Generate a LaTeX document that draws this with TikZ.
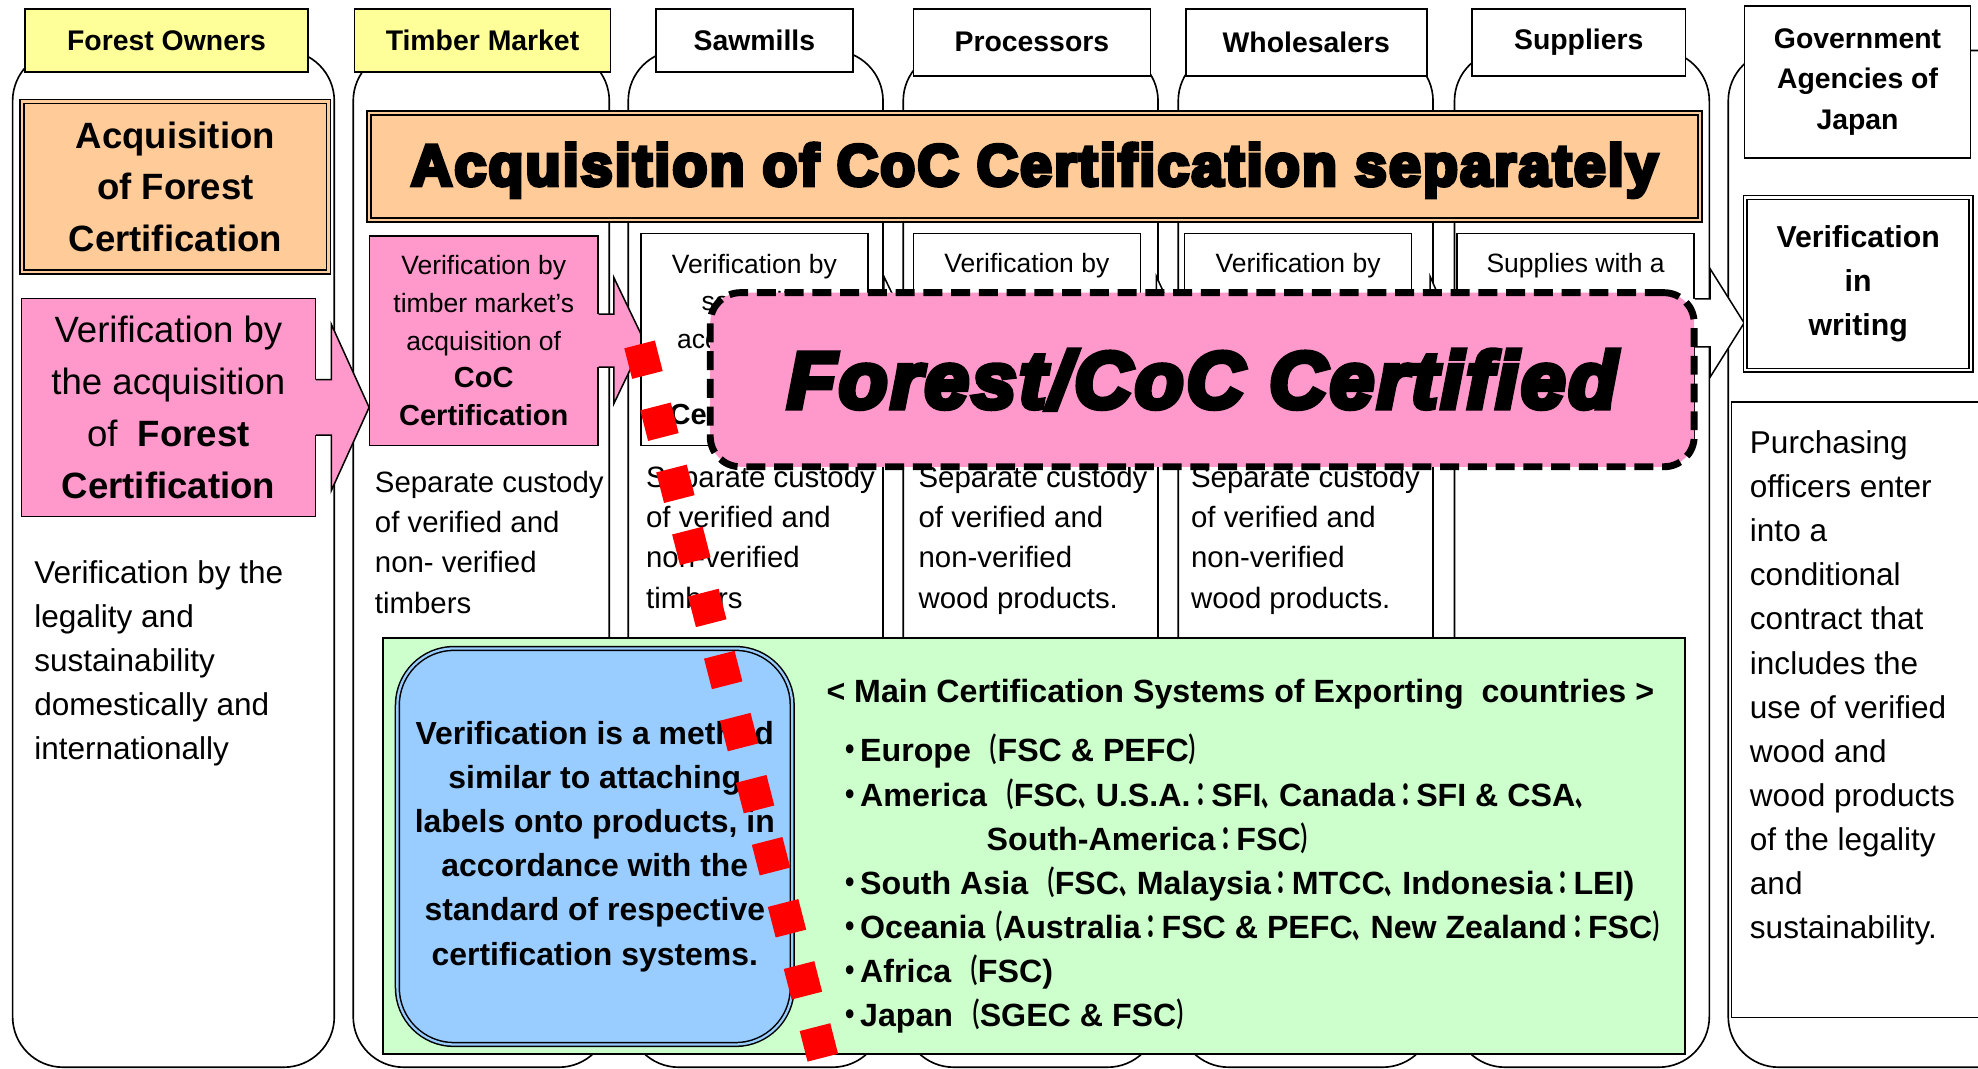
\documentclass[tikz,border=0pt]{standalone}
\usepackage{fontspec}
\usepackage{graphicx}
\setmainfont{Liberation Sans}
\newfontfamily\heavyfont{Liberation Sans Bold}[FakeBold=7,LetterSpace=4]
\newfontfamily\heavyit{Liberation Sans Bold Italic}[FakeBold=7,LetterSpace=4]
\newfontfamily\jpfont{Noto Sans CJK JP}
\usetikzlibrary{positioning}
\usetikzlibrary{calc}

\definecolor{ownyellow}{HTML}{FFFF99}
\definecolor{certorange}{HTML}{FFCC99}
\definecolor{verpink}{HTML}{FF99CC}
\definecolor{sysgreen}{HTML}{CCFFCC}
\definecolor{noteblue}{HTML}{99CCFF}
\definecolor{markred}{HTML}{FF0000}

% japanese punctuation, set narrow
\newcommand\jpch[2][0.55]{\scalebox{#1}[1]{\jpfont #2}}
\newcommand\jdot{\hspace*{-5pt}\jpch[0.85]{・}\hspace*{-3pt}}
\newcommand\jlp{\jpch{（}}
\newcommand\jrp{\jpch{）}}
\newcommand\jcm{\jpch{、}}
\newcommand\jcl{\jpch[0.65]{：}}

% box arrow: start, colour, neck half, head half, base dx, tip dx
\newcommand\blockarrow[6]{%
  \fill[#2] ($#1+(-2,-#3)$) -- ($#1+(#5,-#3)$) -- ($#1+(#5,-#4)$) -- ($#1+(#6,0)$)
    -- ($#1+(#5,#4)$) -- ($#1+(#5,#3)$) -- ($#1+(-2,#3)$) -- cycle;
  \draw[line width=1.2] ($#1+(0,-#3)$) -- ($#1+(#5,-#3)$) -- ($#1+(#5,-#4)$) -- ($#1+(#6,0)$)
    -- ($#1+(#5,#4)$) -- ($#1+(#5,#3)$) -- ($#1+(0,#3)$);
}

\begin{document}
\begin{tikzpicture}[x=1pt, y=-1pt,
  col/.style={draw=black, line width=1.3, fill=white, rounded corners=40},
  hdr/.style={draw=black, line width=1.3, inner sep=0pt, align=center,
    font=\fontsize{22.5}{32}\selectfont\bfseries},
  dblbox/.style={draw=black, line width=1.2, double distance=1.8, inner sep=0pt, align=center},
  verbox/.style={draw=black, line width=1.2, inner sep=0pt, align=center,
    minimum width=180, minimum height=168, font=\fontsize{21}{30}\selectfont},
  bodytxt/.style={inner sep=0pt, anchor=north west, align=left},
  systxt/.style={inner sep=0pt, anchor=base west, font=\fontsize{25.5}{35}\selectfont\bfseries},
  redline/.style={draw=markred, line width=25pt, dash pattern=on 25pt off 25.8pt},
]
\useasboundingbox (0,0) rectangle (1568,847);
\clip (0,0) rectangle (1568,847);

% columns
\foreach \l/\r in {10/265, 280/483, 498/700, 716/918, 934/1136, 1153/1355, 1370/1610}
  \draw[col] (\l,40) rectangle (\r,846);

% headers
\node[hdr, fill=ownyellow, minimum width=224, minimum height=50] (owners) at (132,32) {Forest Owners};
\node[hdr, fill=ownyellow, minimum width=203, minimum height=50] (market) at (382.5,32) {Timber Market};
\node[hdr, fill=white, minimum width=156, minimum height=50] (sawmills) at (598,32) {Sawmills};
\node[hdr, fill=white, minimum width=188, minimum height=53] (processors) at (818,33.5) {Processors};
\node[hdr, fill=white, minimum width=191, minimum height=53] (wholesalers) at (1035.5,33.5) {Wholesalers};
\node[hdr, fill=white, minimum width=169, minimum height=53] (suppliers) at (1251.5,33.5) {Suppliers};
\node[hdr, fill=white, minimum width=179, minimum height=120] (gov) at (1472.5,65) {Government\\Agencies of\\Japan};

% certification boxes
\node[dblbox, double=certorange, fill=certorange, minimum width=243, minimum height=135,
  font=\fontsize{29}{41}\selectfont\bfseries] (fcert) at (139,148) {Acquisition\\of Forest\\Certification};
\node[dblbox, double=certorange, fill=certorange, minimum width=1055, minimum height=85] (coccert) at (820,132) {};
\node[inner sep=0pt] (coctxt) at (820,135) {\heavyfont\fontsize{46}{46}\selectfont\scalebox{0.983}[1]{Acquisition of CoC Certification separately}};

% verification steps
\node[draw, line width=1.2, fill=verpink, minimum width=233, minimum height=173, inner sep=0pt,
  align=center, font=\fontsize{29}{41}\selectfont] (fver) at (133.5,323)
  {Verification by\\the acquisition\\of\ \ \textbf{Forest}\\\textbf{Certification}};
\blockarrow{(fver.east)}{verpink}{22}{66}{12}{42}

\node[verbox, fill=verpink, minimum width=181, minimum height=166] (mver) at (383.5,270)
  {Verification by\\timber market's\\acquisition of\\{\fontsize{23}{30}\selectfont\bfseries CoC}\\{\fontsize{23}{30}\selectfont\bfseries Certification}};
\blockarrow{(mver.east)}{verpink}{21}{50}{12}{36}

\node[verbox, fill=white] (sver) at (598,269)
  {Verification by\\sawmill's\\acquisition of\\{\fontsize{23}{30}\selectfont\bfseries CoC}\\{\fontsize{23}{30}\selectfont\bfseries Certification}};
\blockarrow{(sver.east)}{white}{21}{50}{12}{36}

\node[verbox, fill=white] (pver) at (814,269) {};
\node[inner sep=0pt, font=\fontsize{21}{30}\selectfont, below=16pt of pver.north] (ptxt) {Verification by};
\blockarrow{(pver.east)}{white}{21}{50}{12}{35}

\node[verbox, fill=white] (wver) at (1029,269) {};
\node[inner sep=0pt, font=\fontsize{21}{30}\selectfont, below=16pt of wver.north] (wtxt) {Verification by};
\blockarrow{(wver.east)}{white}{21}{50}{14}{36}

\node[verbox, fill=white, minimum width=188] (splver) at (1249,269) {};
\node[inner sep=0pt, font=\fontsize{21}{30}\selectfont, below=16pt of splver.north] (spltxt) {Supplies with a};
\coordinate (splout) at ($(splver.east)+(0,-13)$);
\blockarrow{(splout)}{white}{19}{43}{12}{39}

% custody texts
\node[bodytxt, font=\fontsize{25}{35}\selectfont] (ownbody) at (27,444)
  {Verification by the\\legality and\\sustainability\\domestically and\\internationally};
\node[bodytxt, font=\fontsize{23.3}{32}\selectfont] (mbody) at (297,373)
  {Separate custody\\of verified and\\non- verified\\timbers};
\node[bodytxt, font=\fontsize{23.3}{32}\selectfont] (sbody) at (512,369)
  {Separate custody\\of verified and\\non-verified\\timbers};
\node[bodytxt, font=\fontsize{23.3}{32}\selectfont] (pbody) at (728,369)
  {Separate custody\\of verified and\\non-verified\\wood products.};
\node[bodytxt, font=\fontsize{23.3}{32}\selectfont] (wbody) at (944,369)
  {Separate custody\\of verified and\\non-verified\\wood products.};

% government
\node[dblbox, double=white, fill=white, minimum width=179, minimum height=137,
  font=\fontsize{24}{35}\selectfont\bfseries] (gwrite) at (1473,225) {Verification\\in\\writing};
\node[draw, line width=1.2, fill=white, minimum width=240, minimum height=488, anchor=north west,
  inner sep=0pt] (gbox) at (1372,318) {};
\node[bodytxt, font=\fontsize{25}{35}\selectfont] (gbody) at ($(gbox.north west)+(15,23)$)
  {Purchasing\\officers enter\\into a\\conditional\\contract that\\includes the\\use of verified\\wood and\\wood products\\of the legality\\and\\sustainability.};

% certification systems
\node[draw, line width=1.3, fill=sysgreen, minimum width=1032, minimum height=330, anchor=north west,
  inner sep=0pt] (sysbox) at (303,505) {};
\node[draw, line width=1.2, double=noteblue, double distance=1.8, fill=noteblue, rounded corners=45,
  minimum width=313, minimum height=314, inner sep=0pt, align=center,
  font=\fontsize{25.3}{35}\selectfont\bfseries] (note) at (471.5,671)
  {Verification is a method\\similar to attaching\\labels onto products, in\\accordance with the\\standard of respective\\certification systems.};
\node[systxt] (syshead) at (655,557) {< Main Certification Systems of Exporting\ \ countries >};
\foreach \yy/\xx/\txt [count=\k] in {
    604/668/{\jdot Europe \jlp FSC \& PEFC\jrp},
    639/668/{\jdot America \jlp FSC\jcm U.S.A.\jcl SFI\jcm Canada\jcl SFI \& CSA\jcm},
    674/782/{South-America\jcl FSC\jrp},
    709/668/{\jdot South Asia \jlp FSC\jcm Malaysia\jcl MTCC\jcm Indonesia\jcl LEI)},
    744/668/{\jdot Oceania\jlp Australia\jcl FSC \& PEFC\jcm New Zealand\jcl FSC\jrp},
    779/668/{\jdot Africa \jlp FSC)},
    814/668/{\jdot Japan \jlp SGEC \& FSC\jrp}}
  \node[systxt] (sys\k) at (\xx,\yy) {\txt};

% certified label
\node[draw, line width=5.5, dash pattern=on 15pt off 7pt, fill=verpink, rounded corners=24,
  minimum width=780, minimum height=138, inner sep=0pt] (certified) at (953,301)
  {\heavyit\fontsize{63}{63}\selectfont Forest/CoC Certified};

% red marker line
\coordinate (redtop) at (507,273);
\coordinate (redbot) at (656,853);
\draw[redline] (redtop) -- (redbot);
\end{tikzpicture}
\end{document}
